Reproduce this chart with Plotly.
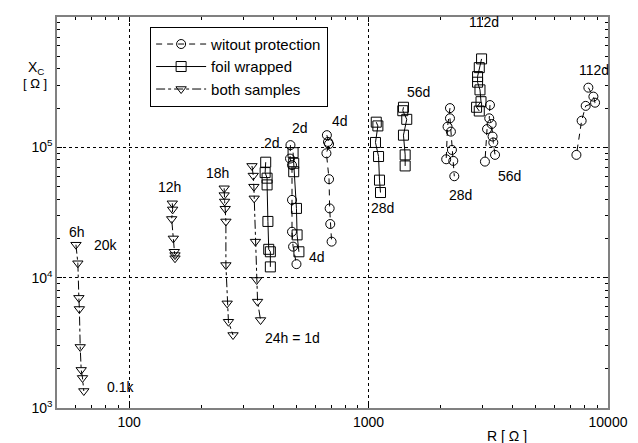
import math
import plotly.graph_objects as go

# ---------------- data (R [Ohm], Xc [Ohm]) ----------------
# witout protection (circles), one list per measured curve
circ_R = [
    [472, 470, 479, 479, 479, 484, 500],
    [670, 677, 684, 667, 684, 688, 692, 701],
    [2188, 2138, 2110],
    [2188, 2208, 2230, 2259, 2281],
    [3125, 3063],
    [3214, 3192, 3266, 3296, 3319, 3375],
    [8280, 8690, 8830, 8070, 7760, 7380],
]
circ_X = [
    [104e3, 82e3, 73e3, 39.5e3, 22.5e3, 17.3e3, 12.7e3],
    [124e3, 110e3, 106e3, 90e3, 57e3, 34e3, 25.8e3, 18.9e3],
    [200e3, 144e3, 81e3],
    [167e3, 132e3, 95.5e3, 78.7e3, 60e3],
    [138e3, 77.7e3],
    [211e3, 167e3, 151e3, 121e3, 109e3, 87.5e3],
    [287e3, 245e3, 220e3, 208e3, 160e3, 87.5e3],
]

# foil wrapped (squares)
sq_R = [
    [372, 370, 377, 377, 380, 383, 389, 389],
    [484, 487, 487, 500, 503, 512],
    [1077, 1094, 1069, 1101, 1111, 1122],
    [1399, 1390, 1444, 1399, 1422, 1422],
    [2965, 2900, 2853, 2853, 2920, 2949, 2826, 2900],
]
sq_X = [
    [76.9e3, 64e3, 58e3, 51.5e3, 27e3, 16.5e3, 15.8e3, 12.1e3],
    [91e3, 75.5e3, 65e3, 34e3, 21.3e3, 15.8e3],
    [156e3, 146e3, 109e3, 85e3, 56e3, 45e3],
    [203e3, 191e3, 164e3, 124e3, 87.5e3, 72e3],
    [477e3, 409e3, 349e3, 316e3, 276e3, 224e3, 203e3, 190e3],
]

# both samples (triangles)
tri_R = [
    [60.0, 61.1, 61.7, 62.0, 62.5, 63.1, 63.9, 64.7],
    [151.5, 152, 150.6, 153, 154.5, 155.5, 155.5],
    [249.5, 249.5, 250.6, 252, 253.7, 253.7, 256.8, 260, 271.7],
    [326, 330, 332, 333, 337, 341, 344, 354],
]
tri_X = [
    [17.9e3, 12.9e3, 7.0e3, 5.75e3, 2.94e3, 1.96e3, 1.70e3, 1.35e3],
    [37.2e3, 33.4e3, 28.2e3, 20.0e3, 15.8e3, 14.9e3, 14.1e3],
    [48.5e3, 43e3, 38.4e3, 33.8e3, 27.0e3, 12.5e3, 6.35e3, 4.59e3, 3.63e3],
    [72e3, 60.7e3, 49.9e3, 40.6e3, 18.9e3, 9.6e3, 6.55e3, 4.73e3],
]

# text labels in the plot
label_text = ["6h", "20k", "0.1k", "12h", "18h", "24h = 1d", "2d", "2d", "4d", "4d",
              "28d", "56d", "28d", "56d", "112d", "112d"]
label_R = [60.7, 80, 92, 148, 235, 480, 394, 516, 612, 757,
           1143, 1616, 2432, 3868, 3043, 8750]
label_X = [22.4e3, 17.8e3, 1.45e3, 49.7e3, 63.7e3, 3.44e3, 108e3, 141e3, 14.4e3, 160e3,
           34.3e3, 267e3, 43.2e3, 60.3e3, 916e3, 393e3]

x_tickvals = [100, 1000, 10000]
x_ticktext = ["100", "1000", "10000"]
x_minor = [60, 70, 80, 90, 200, 300, 400, 500, 600, 700, 800, 900,
           2000, 3000, 4000, 5000, 6000, 7000, 8000, 9000]
y_tickvals = [1e3, 1e4, 1e5, 1e6]
y_ticktext = ["10<sup>3</sup>", "10<sup>4</sup>", "10<sup>5</sup>", "10<sup>6</sup>"]
y_minor = [2e3, 3e3, 4e3, 5e3, 6e3, 7e3, 8e3, 9e3,
           2e4, 3e4, 4e4, 5e4, 6e4, 7e4, 8e4, 9e4,
           2e5, 3e5, 4e5, 5e5, 6e5, 7e5, 8e5, 9e5]


def join_groups(gx, gy):
    xs, ys = [], []
    for a, b in zip(gx, gy):
        if xs:
            xs.append(None)
            ys.append(None)
        xs.extend(a)
        ys.extend(b)
    return xs, ys


FONT = "Liberation Sans, Arial, sans-serif"
fig = go.Figure()

cx, cy = join_groups(circ_R, circ_X)
fig.add_trace(go.Scatter(
    x=cx, y=cy, mode="lines+markers", name="witout protection",
    line=dict(color="black", width=1, dash="6px,5px"),
    marker=dict(symbol="circle-open", size=9, color="black", line=dict(width=1)),
))
sx, sy = join_groups(sq_R, sq_X)
fig.add_trace(go.Scatter(
    x=sx, y=sy, mode="lines+markers", name="foil wrapped",
    line=dict(color="black", width=1),
    marker=dict(symbol="square-open", size=10, color="black", line=dict(width=1)),
))
tx, ty = join_groups(tri_R, tri_X)
fig.add_trace(go.Scatter(
    x=tx, y=ty, mode="lines+markers", name="both samples",
    line=dict(color="black", width=1, dash="dashdot"),
    marker=dict(symbol="triangle-down-open", size=9, color="black", line=dict(width=1)),
))

for t, r, xv in zip(label_text, label_R, label_X):
    fig.add_annotation(x=math.log10(r), y=math.log10(xv), text=t, showarrow=False,
                       xref="x", yref="y", font=dict(size=14, color="black", family=FONT))

fig.add_annotation(x=-0.039, y=0.870, xref="paper", yref="paper", text="X<sub>C</sub>",
                   xanchor="center", yanchor="middle",
                   showarrow=False, font=dict(size=14, color="black", family=FONT))
fig.add_annotation(x=-0.040, y=0.831, xref="paper", yref="paper", text="[ Ω ]",
                   xanchor="center", yanchor="middle",
                   showarrow=False, font=dict(size=13, color="black", family=FONT))
fig.add_annotation(x=0.817, y=-0.072, xref="paper", yref="paper", text="R [ Ω ]",
                   xanchor="center", yanchor="middle",
                   showarrow=False, font=dict(size=14, color="black", family=FONT))

axis_common = dict(
    type="log", showline=True, linecolor="#808080", linewidth=1.5, mirror="ticks",
    ticks="inside", ticklen=5, tickcolor="black", tickwidth=1,
    showgrid=True, gridcolor="black", gridwidth=1, griddash="dot",
    zeroline=False, automargin=False,
    tickfont=dict(size=14, color="black", family=FONT),
)

fig.update_xaxes(range=[math.log10(50), 4], tickvals=x_tickvals, ticktext=x_ticktext,
                 minor=dict(tickvals=x_minor, ticks="inside", ticklen=3,
                            tickcolor="black", showgrid=False),
                 **axis_common)
fig.update_yaxes(range=[3, 6], tickvals=y_tickvals, ticktext=y_ticktext,
                 minor=dict(tickvals=y_minor, ticks="inside", ticklen=3,
                            tickcolor="black", showgrid=False),
                 **axis_common)

fig.update_layout(
    width=630, height=435,
    margin=dict(l=49, r=30, t=9, b=35),
    paper_bgcolor="white", plot_bgcolor="white",
    font=dict(family=FONT, size=14, color="black"),
    showlegend=True,
    legend=dict(x=0.169, y=0.975, xanchor="left", yanchor="top",
                bgcolor="white", bordercolor="black", borderwidth=1,
                font=dict(size=15, family=FONT), itemwidth=50,
                tracegroupgap=0),
)

fig.write_html("out.html")
